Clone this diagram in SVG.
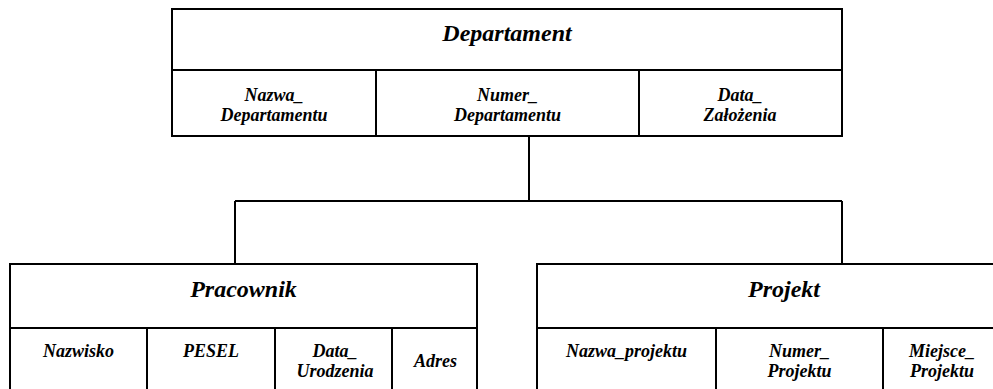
<svg xmlns="http://www.w3.org/2000/svg" width="993" height="389" viewBox="0 0 993 389">
  <style>
    .box { fill: #fff; stroke: #000; stroke-width: 2; }
    .ln { stroke: #000; stroke-width: 2; fill: none; }
    text { font-family: 'Liberation Serif', 'DejaVu Serif', serif; font-weight: bold; font-style: italic; text-anchor: middle; fill: #000; }
    .title { font-size: 24px; }
    .attr { font-size: 18px; }
  </style>
  <rect width="993" height="389" fill="#fff"/>

  <!-- hierarchy connectors -->
  <g id="connectors">
    <path class="ln" d="M529 136 V201"/>
    <path class="ln" d="M235 201 H842"/>
    <path class="ln" d="M235 201 V264"/>
    <path class="ln" d="M842 201 V264"/>
  </g>

  <!-- Departament entity -->
  <g id="departament">
    <rect class="box" x="172" y="9" width="670" height="127"/>
    <path class="ln" d="M172 70 H842 M376 70 V136 M639 70 V136"/>
    <text class="title" x="507" y="41">Departament</text>
    <text class="attr" x="274" y="101">Nazwa_</text>
    <text class="attr" x="274" y="121">Departamentu</text>
    <text class="attr" x="507.5" y="101">Numer_</text>
    <text class="attr" x="507.5" y="121">Departamentu</text>
    <text class="attr" x="740" y="101">Data_</text>
    <text class="attr" x="740" y="121">Założenia</text>
  </g>

  <!-- Pracownik entity -->
  <g id="pracownik">
    <rect class="box" x="10" y="264" width="467" height="140"/>
    <path class="ln" d="M10 328 H477 M147 328 V400 M275 328 V400 M392 328 V400"/>
    <text class="title" x="243.5" y="297">Pracownik</text>
    <text class="attr" x="78.5" y="357">Nazwisko</text>
    <text class="attr" x="211" y="357">PESEL</text>
    <text class="attr" x="335" y="357">Data_</text>
    <text class="attr" x="335" y="377">Urodzenia</text>
    <text class="attr" x="435.5" y="367">Adres</text>
  </g>

  <!-- Projekt entity -->
  <g id="projekt">
    <rect class="box" x="537" y="264" width="494" height="140"/>
    <path class="ln" d="M537 328 H1031 M716 328 V400 M883 328 V400"/>
    <text class="title" x="784" y="297">Projekt</text>
    <text class="attr" x="626.5" y="357">Nazwa_projektu</text>
    <text class="attr" x="799.5" y="357">Numer_</text>
    <text class="attr" x="799.5" y="377">Projektu</text>
    <text class="attr" x="942" y="357">Miejsce_</text>
    <text class="attr" x="942" y="377">Projektu</text>
  </g>
</svg>
